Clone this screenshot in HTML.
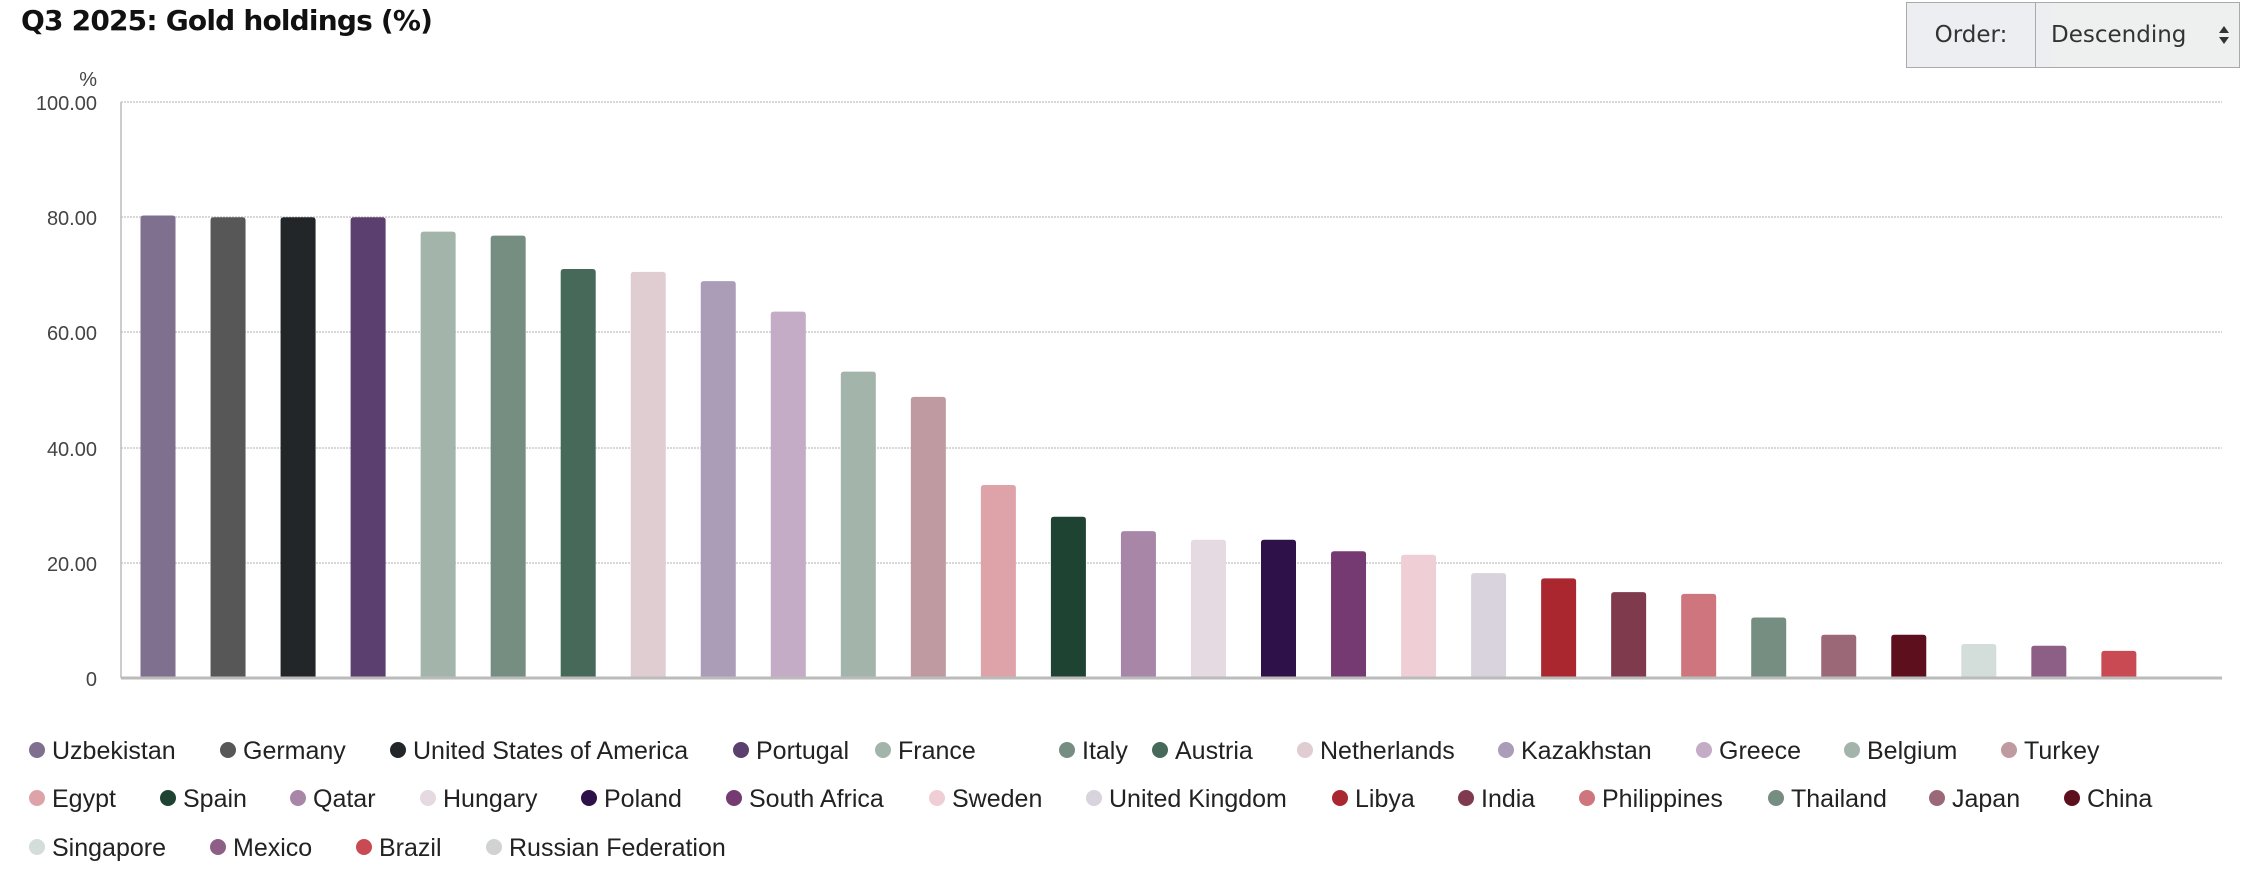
<!DOCTYPE html>
<html><head><meta charset="utf-8"><style>
body{margin:0;background:#fff;width:2254px;height:872px;overflow:hidden;font-family:"Liberation Sans",Arial,sans-serif}
.t{position:absolute;left:21px;top:4px;font-family:"DejaVu Sans","Liberation Sans",sans-serif;font-weight:bold;font-size:28px;color:#111;letter-spacing:-0.8px}
.ob{position:absolute;left:1906px;top:2px;width:332px;height:64px;border:1px solid #aaa;background:#eceef1;font-family:"DejaVu Sans",sans-serif;font-size:23px;color:#333}
.ob div{position:absolute;top:0;height:64px;line-height:64px}
</style></head><body>
<div class="t">Q3 2025: Gold holdings (%)</div>
<div class="ob"><div style="left:0;width:128px;text-align:center;border-right:1px solid #aaa">Order:</div><div style="left:144px;width:188px;background:#eef0f0">Descending</div>
<svg width="12" height="20" style="position:absolute;left:311px;top:22px"><path d="M6 1L11 8H1Z M6 19L11 12H1Z" fill="#333"/></svg></div>
<svg width="2254" height="872" style="position:absolute;left:0;top:0" font-family="Liberation Sans, Arial, sans-serif">
<g stroke="#ccc" stroke-dasharray="2,1" stroke-width="1.5">
<line x1="121" x2="2222" y1="102" y2="102"/><line x1="121" x2="2222" y1="217" y2="217"/><line x1="121" x2="2222" y1="332" y2="332"/><line x1="121" x2="2222" y1="448" y2="448"/><line x1="121" x2="2222" y1="563" y2="563"/>
</g>
<line x1="121" x2="121" y1="102" y2="678" stroke="#bbb" stroke-width="1.5"/>
<g font-size="20" fill="#444" text-anchor="end">
<text x="97" y="86">%</text>
<text x="97" y="110">100.00</text><text x="97" y="225">80.00</text><text x="97" y="340">60.00</text><text x="97" y="456">40.00</text><text x="97" y="571">20.00</text><text x="97" y="686">0</text>
</g>
<g id="bars"></g>
<line x1="121" x2="2222" y1="678" y2="678" stroke="#bbb" stroke-width="3"/>
<g id="leg" font-size="25" fill="#222"></g>
</svg>
<script>
var d=[["Uzbekistan",80.3,"#80708f",37,0],["Germany",80,"#575757",228,0],["United States of America",80,"#222629",398,0],["Portugal",80,"#5b3f6e",741,0],["France",77.5,"#a3b4aa",883,0],["Italy",76.8,"#768d82",1067,0],["Austria",71,"#46695a",1160,0],["Netherlands",70.5,"#dfcdd2",1305,0],["Kazakhstan",68.9,"#ab9db7",1506,0],["Greece",63.6,"#c4abc6",1704,0],["Belgium",53.2,"#a3b4aa",1852,0],["Turkey",48.8,"#bf9aa0",2009,0],
["Egypt",33.5,"#dea3a8",37,1],["Spain",28,"#1f4333",168,1],["Qatar",25.5,"#a886a8",298,1],["Hungary",24,"#e5d9e2",428,1],["Poland",24,"#2e1148",589,1],["South Africa",22,"#753a72",734,1],["Sweden",21.4,"#efcfd5",937,1],["United Kingdom",18.2,"#d8d3dc",1094,1],["Libya",17.3,"#ab2730",1340,1],["India",14.9,"#7f3a4e",1466,1],["Philippines",14.6,"#cf757d",1587,1],["Thailand",10.5,"#768d82",1776,1],["Japan",7.5,"#9b6877",1937,1],["China",7.5,"#5e0f1e",2072,1],
["Singapore",5.9,"#d3ddd9",37,2],["Mexico",5.6,"#8e5f86",218,2],["Brazil",4.7,"#c94a52",364,2],["Russian Federation",0,"#d0d3d2",494,2]];
var b="",l="",ys=[750,798,847];
d.forEach(function(e,i){var cx=123+70.03*(i+0.5),h=e[1]*5.76;
if(h>0)b+='<path d="M'+(cx-17.5)+' 678V'+(678-h+3)+'q0 -3 3 -3h29q3 0 3 3V678Z" fill="'+e[2]+'"/>';
var y=ys[e[4]];l+='<circle cx="'+e[3]+'" cy="'+y+'" r="8" fill="'+e[2]+'"/><text x="'+(e[3]+15)+'" y="'+(y+9)+'">'+e[0]+'</text>';});
document.getElementById("bars").innerHTML=b;document.getElementById("leg").innerHTML=l;
</script>
</body></html>
